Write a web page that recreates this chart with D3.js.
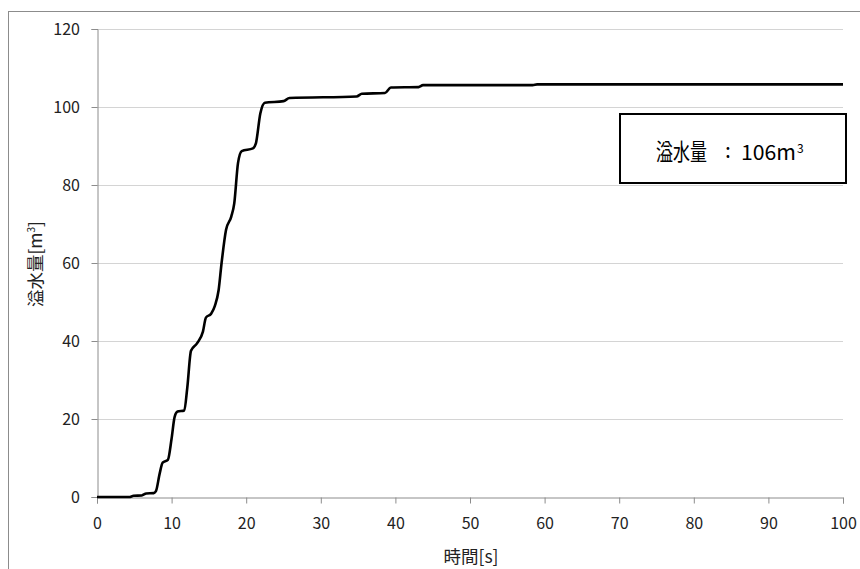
<!DOCTYPE html>
<html><head><meta charset="utf-8">
<script src="https://cdn.jsdelivr.net/npm/d3@7"></script>
<style>body{margin:0;background:#fff}svg{display:block}</style>
</head><body>
<script>
const times = [0,4.3,4.9,6.0,6.6,7.6,7.9,8.4,8.8,9.5,10.0,10.4,10.8,11.7,12.1,12.6,13.4,14.2,14.6,15.3,15.8,16.3,16.7,17.3,18.0,18.4,18.9,19.4,20.9,21.3,21.9,22.5,25.0,25.8,34.8,35.5,38.6,39.4,43.1,43.7,58.4,59.0,100];
const volumes = [0,0,0.3,0.4,0.9,1.0,1.5,6,8.8,9.5,15,20.5,21.9,22.2,28,37.5,39.4,42.4,46.0,47.0,49,53,60,68.5,71.9,75.3,85.6,88.7,89.4,90.7,98.4,101.1,101.5,102.3,102.7,103.4,103.6,105.0,105.1,105.6,105.6,105.8,105.8];
const xTicks = [0,10,20,30,40,50,60,70,80,90,100];
const yTicks = [0,20,40,60,80,100,120];
const xTitle = "時間[s]";
const yTitleMain = "溢水量[m";
const yTitleSup = "3";
const yTitleEnd = "]";
const noteLabel = "溢水量";
const noteColon = ":";
const noteValue = "106m";
const noteSup = "3";

const W = 860, H = 569;
const font = "'Noto Sans CJK JP', 'Liberation Sans', sans-serif";
const svg = d3.select("body").append("svg").attr("width", W).attr("height", H);

// outer chart frame
svg.append("rect").attr("x", 8.5).attr("y", 11.5).attr("width", 870).attr("height", 600)
  .attr("fill", "none").attr("stroke", "#8c8c8c").attr("stroke-width", 1);

const x = d3.scaleLinear().domain([0, 100]).range([97, 843]);
const y = d3.scaleLinear().domain([0, 120]).range([497, 29]);

// gridlines
svg.append("g").selectAll("line").data(yTicks.filter(d => d > 0)).join("line")
  .attr("x1", x(0)).attr("x2", x(100))
  .attr("y1", d => Math.round(y(d)) + 0.5).attr("y2", d => Math.round(y(d)) + 0.5)
  .attr("stroke", "#d4d4d4").attr("stroke-width", 1);

// axes
const xAxis = svg.append("g").attr("transform", `translate(0,${Math.round(y(0)) + 0.5})`)
  .call(d3.axisBottom(x).tickValues(xTicks).tickSize(6).tickPadding(14).tickFormat(d3.format("d")));
const yAxis = svg.append("g").attr("transform", `translate(${Math.round(x(0)) + 0.5},0)`)
  .call(d3.axisLeft(y).tickValues(yTicks).tickSize(6).tickPadding(11.5).tickFormat(d3.format("d")));
[xAxis, yAxis].forEach(g => {
  g.select(".domain").attr("stroke", "#8c8c8c");
  g.selectAll(".tick line").attr("stroke", "#8c8c8c");
  g.selectAll(".tick text").attr("font-family", font).attr("font-size", 16).attr("fill", "#222");
});

// line
const data = times.map((t, i) => [t, volumes[i]]);
svg.append("path").datum(data)
  .attr("d", d3.line().x(d => x(d[0])).y(d => y(d[1])).curve(d3.curveMonotoneX))
  .attr("fill", "none").attr("stroke", "#000").attr("stroke-width", 2.6)
  .attr("stroke-linejoin", "round");

// axis titles
svg.append("text").attr("x", 471).attr("y", 563).attr("text-anchor", "middle")
  .attr("font-family", font).attr("font-size", 17.5).attr("fill", "#222").text(xTitle);
const yt = svg.append("text").attr("transform", "translate(42,264) rotate(-90)").attr("text-anchor", "middle")
  .attr("font-family", font).attr("font-size", 17.5).attr("fill", "#222");
yt.append("tspan").text(yTitleMain);
yt.append("tspan").attr("dy", -7).attr("font-size", 10).text(yTitleSup);
yt.append("tspan").attr("dy", 7).text(yTitleEnd);

// annotation box
svg.append("rect").attr("x", 620).attr("y", 114).attr("width", 226).attr("height", 69)
  .attr("fill", "#fff").attr("stroke", "#000").attr("stroke-width", 2);
svg.append("text").attr("x", 656).attr("y", 160).attr("font-family", font).attr("font-size", 23)
  .attr("textLength", 51).attr("lengthAdjust", "spacingAndGlyphs").attr("fill", "#000").text(noteLabel);
svg.append("text").attr("x", 728).attr("y", 158).attr("text-anchor", "middle").attr("font-family", font)
  .attr("font-size", 21).attr("fill", "#000").text(noteColon);
svg.append("text").attr("x", 741).attr("y", 160).attr("font-family", font).attr("font-size", 21)
  .attr("textLength", 55).attr("lengthAdjust", "spacingAndGlyphs").attr("fill", "#000").text(noteValue);
svg.append("text").attr("x", 797).attr("y", 153).attr("font-family", font).attr("font-size", 12)
  .attr("fill", "#000").text(noteSup);
</script>
</body></html>
